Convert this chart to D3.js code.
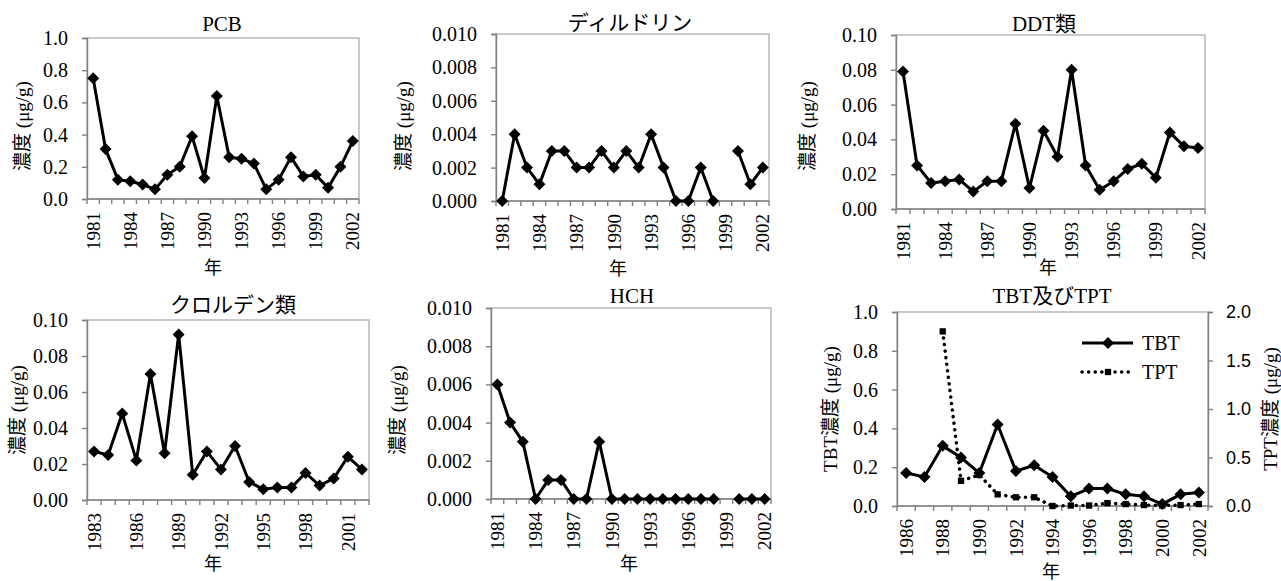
<!DOCTYPE html>
<html>
<head>
<meta charset="utf-8">
<script src="https://cdn.jsdelivr.net/npm/d3@7"></script>
<style>
  body { margin: 0; background: #fff; }
  .num { font-family: "Liberation Serif", "Times New Roman", serif; }
  .jp { font-family: "Liberation Serif", "Noto Sans CJK JP", serif; }
  .sans { font-family: "Liberation Sans", Arial, sans-serif; }
</style>
</head>
<body>
<div id="chart"></div>
<script>
// categories
const years81 = [1981, 1982, 1983, 1984, 1985, 1986, 1987, 1988, 1989, 1990, 1991,
                 1992, 1993, 1994, 1995, 1996, 1997, 1998, 1999, 2000, 2001, 2002];
const years83 = [1983, 1984, 1985, 1986, 1987, 1988, 1989, 1990, 1991, 1992,
                 1993, 1994, 1995, 1996, 1997, 1998, 1999, 2000, 2001, 2002];
const years86 = [1986, 1987, 1988, 1989, 1990, 1991, 1992, 1993, 1994,
                 1995, 1996, 1997, 1998, 1999, 2000, 2001, 2002];

// series (µg/g), null = no measurement
const pcb = [0.75, 0.31, 0.12, 0.11, 0.09, 0.06, 0.15, 0.20, 0.39, 0.13, 0.64,
             0.26, 0.25, 0.22, 0.06, 0.12, 0.26, 0.14, 0.15, 0.07, 0.20, 0.36];
const dieldrin = [0.000, 0.004, 0.002, 0.001, 0.003, 0.003, 0.002, 0.002, 0.003, 0.002, 0.003,
                  0.002, 0.004, 0.002, 0.000, 0.000, 0.002, 0.000, null, 0.003, 0.001, 0.002];
const ddt = [0.079, 0.025, 0.015, 0.016, 0.017, 0.010, 0.016, 0.016, 0.049, 0.012, 0.045,
             0.030, 0.080, 0.025, 0.011, 0.016, 0.023, 0.026, 0.018, 0.044, 0.036, 0.035];
const chlordane = [0.027, 0.025, 0.048, 0.022, 0.070, 0.026, 0.092, 0.014, 0.027, 0.017,
                   0.030, 0.010, 0.006, 0.007, 0.007, 0.015, 0.008, 0.012, 0.024, 0.017];
const hch = [0.006, 0.004, 0.003, 0.000, 0.001, 0.001, 0.000, 0.000, 0.003, 0.000, 0.000,
             0.000, 0.000, 0.000, 0.000, 0.000, 0.000, 0.000, null, 0.000, 0.000, 0.000];
const tbt = [0.17, 0.15, 0.31, 0.25, 0.17, 0.42, 0.18, 0.21, 0.15,
             0.05, 0.09, 0.09, 0.06, 0.05, 0.01, 0.06, 0.07];
const tpt = [null, null, 1.80, 0.26, 0.32, 0.12, 0.09, 0.09, 0.00,
             0.005, 0.005, 0.03, 0.02, 0.01, 0.005, 0.01, 0.02];

// tick values
const ticks1 = [0, 0.2, 0.4, 0.6, 0.8, 1.0];
const ticks01 = [0, 0.02, 0.04, 0.06, 0.08, 0.10];
const ticks001 = [0, 0.002, 0.004, 0.006, 0.008, 0.010];
const ticks2 = [0, 0.5, 1.0, 1.5, 2.0];
const labels81 = [1981, 1984, 1987, 1990, 1993, 1996, 1999, 2002];
const labels83 = [1983, 1986, 1989, 1992, 1995, 1998, 2001];
const labels86 = [1986, 1988, 1990, 1992, 1994, 1996, 1998, 2000, 2002];

const svg = d3.select("#chart").append("svg")
    .attr("width", 1281)
    .attr("height", 581)
    .style("background", "#fff");

const diamond = d3.symbol().type(d3.symbolSquare).size(72);
const square = d3.symbol().type(d3.symbolSquare).size(40);

function panel(o) {
    const g = svg.append("g");
    const x = d3.scaleBand().domain(o.years).range([o.left, o.right]);
    const y = d3.scaleLinear().domain([0, o.ymax]).range([o.bottom, o.top]);
    const cx = d => x(d) + x.bandwidth() / 2;

    // plot frame (light grey top/right)
    g.append("rect")
        .attr("x", o.left).attr("y", o.top)
        .attr("width", o.right - o.left).attr("height", o.bottom - o.top)
        .attr("fill", "none").attr("stroke", "#a6a6a6").attr("stroke-width", 1.2);

    // y axis
    const ya = g.append("g")
        .attr("transform", `translate(${o.left},0)`)
        .attr("font-family", null).attr("font-size", null)
        .call(d3.axisLeft(y).tickValues(o.yticks).tickSize(5).tickPadding(14).tickFormat(d3.format(o.fmt)));
    ya.attr("font-family", null).attr("font-size", null);
    ya.selectAll("path, line").attr("stroke", "#808080").attr("stroke-width", 1.4);
    ya.selectAll("text").attr("class", "num").style("font-size", "20px").attr("fill", "#000");

    // category axis: ticks on band boundaries
    const bounds = o.years.map(d => x(d)).concat([o.right]);
    g.append("line")
        .attr("x1", o.left).attr("x2", o.right)
        .attr("y1", o.bottom).attr("y2", o.bottom)
        .attr("stroke", "#808080").attr("stroke-width", 1.4);
    g.selectAll(".xt").data(bounds).join("line")
        .attr("x1", d => d).attr("x2", d => d)
        .attr("y1", o.bottom).attr("y2", o.bottom + 5)
        .attr("stroke", "#808080").attr("stroke-width", 1.4);
    g.selectAll(".xl").data(o.xlabels).join("text")
        .attr("class", "num")
        .attr("transform", d => `translate(${cx(d)},${o.bottom + 13}) rotate(-90)`)
        .attr("dy", "0.35em")
        .attr("text-anchor", "end")
        .style("font-size", "19px")
        .text(d => d);

    // title and axis titles
    g.append("text")
        .attr("class", "jp")
        .attr("x", o.titleX).attr("y", o.titleY)
        .attr("text-anchor", "middle")
        .style("font-size", "21px")
        .text(o.title);
    g.append("text")
        .attr("class", "jp")
        .attr("transform", `translate(${o.ylabX},${o.ylabY}) rotate(-90)`)
        .attr("text-anchor", "middle").attr("dy", "0.35em")
        .style("font-size", "19px")
        .text(o.ylab);
    g.append("text")
        .attr("class", "jp")
        .attr("x", o.xlabX).attr("y", o.xlabY)
        .attr("text-anchor", "middle")
        .style("font-size", "18px")
        .text("年");

    return { g, x, y, cx };
}

function solidSeries(p, years, values, y) {
    const pts = years.map((d, i) => ({ year: d, v: values[i] }));
    p.g.append("path")
        .datum(pts)
        .attr("fill", "none").attr("stroke", "#000").attr("stroke-width", 3)
        .attr("stroke-linejoin", "round")
        .attr("d", d3.line().defined(d => d.v != null).x(d => p.cx(d.year)).y(d => y(d.v)));
    p.g.selectAll(".dm").data(pts.filter(d => d.v != null)).join("path")
        .attr("transform", d => `translate(${p.cx(d.year)},${y(d.v)}) rotate(45)`)
        .attr("d", diamond).attr("fill", "#000");
}

const P1 = panel({ years: years81, left: 87, right: 359, top: 38, bottom: 199, ymax: 1.0, yticks: ticks1, fmt: ".1f",
    xlabels: labels81, title: "PCB", titleX: 222, titleY: 31, ylab: "濃度 (μg/g)", ylabX: 22, ylabY: 126, xlabX: 213, xlabY: 274 });
solidSeries(P1, years81, pcb, P1.y);

const P2 = panel({ years: years81, left: 496, right: 769, top: 34, bottom: 201, ymax: 0.010, yticks: ticks001, fmt: ".3f",
    xlabels: labels81, title: "ディルドリン", titleX: 630, titleY: 30, ylab: "濃度 (μg/g)", ylabX: 403, ylabY: 126, xlabX: 618, xlabY: 275 });
solidSeries(P2, years81, dieldrin, P2.y);

const P3 = panel({ years: years81, left: 896, right: 1205, top: 35, bottom: 209, ymax: 0.10, yticks: ticks01, fmt: ".2f",
    xlabels: labels81, title: "DDT類", titleX: 1044, titleY: 31, ylab: "濃度 (μg/g)", ylabX: 807, ylabY: 126, xlabX: 1048, xlabY: 274 });
solidSeries(P3, years81, ddt, P3.y);

const P4 = panel({ years: years83, left: 87, right: 369, top: 320, bottom: 500, ymax: 0.10, yticks: ticks01, fmt: ".2f",
    xlabels: labels83, title: "クロルデン類", titleX: 233, titleY: 312, ylab: "濃度 (μg/g)", ylabX: 17, ylabY: 410, xlabX: 213, xlabY: 570 });
solidSeries(P4, years83, chlordane, P4.y);

const P5 = panel({ years: years81, left: 491, right: 771, top: 308, bottom: 499, ymax: 0.010, yticks: ticks001, fmt: ".3f",
    xlabels: labels81, title: "HCH", titleX: 632, titleY: 303, ylab: "濃度 (μg/g)", ylabX: 397, ylabY: 410, xlabX: 629, xlabY: 570 });
solidSeries(P5, years81, hch, P5.y);

const P6 = panel({ years: years86, left: 897, right: 1208, top: 312, bottom: 506, ymax: 1.0, yticks: ticks1, fmt: ".1f",
    xlabels: labels86, title: "TBT及びTPT", titleX: 1052, titleY: 303, ylab: "TBT濃度 (μg/g)", ylabX: 830, ylabY: 409, xlabX: 1051, xlabY: 578 });

// secondary axis for TPT
const y2 = d3.scaleLinear().domain([0, 2.0]).range([506, 312]);
const ra = P6.g.append("g")
    .attr("transform", "translate(1208,0)")
    .call(d3.axisRight(y2).tickValues(ticks2).tickSize(5).tickPadding(13).tickFormat(d3.format(".1f")));
ra.attr("font-family", null).attr("font-size", null);
ra.selectAll("path, line").attr("stroke", "#808080").attr("stroke-width", 1.4);
ra.selectAll("text").attr("class", "sans").style("font-size", "18px").attr("fill", "#000");
P6.g.append("text")
    .attr("class", "jp")
    .attr("transform", "translate(1270,409) rotate(-90)")
    .attr("text-anchor", "middle").attr("dy", "0.35em")
    .style("font-size", "19px")
    .text("TPT濃度 (μg/g)");

// TPT dotted series (drawn under TBT)
const tptPts = years86.map((d, i) => ({ year: d, v: tpt[i] }));
P6.g.append("path")
    .datum(tptPts)
    .attr("fill", "none").attr("stroke", "#000").attr("stroke-width", 3.5)
    .attr("stroke-linecap", "round").attr("stroke-dasharray", "0.1 6.5")
    .attr("d", d3.line().defined(d => d.v != null).x(d => P6.cx(d.year)).y(d => y2(d.v)));
P6.g.selectAll(".sq").data(tptPts.filter(d => d.v != null)).join("path")
    .attr("transform", d => `translate(${P6.cx(d.year)},${y2(d.v)})`)
    .attr("d", square).attr("fill", "#000");

solidSeries(P6, years86, tbt, P6.y);

// legend
const lg = P6.g.append("g");
lg.append("line").attr("x1", 1082).attr("x2", 1133).attr("y1", 343).attr("y2", 343)
    .attr("stroke", "#000").attr("stroke-width", 3);
lg.append("path").attr("transform", "translate(1108,343) rotate(45)").attr("d", diamond).attr("fill", "#000");
lg.append("text").attr("class", "num").attr("x", 1142).attr("y", 350).style("font-size", "20px").text("TBT");
lg.append("line").attr("x1", 1082).attr("x2", 1132).attr("y1", 372).attr("y2", 372)
    .attr("stroke", "#000").attr("stroke-width", 3.5)
    .attr("stroke-linecap", "round").attr("stroke-dasharray", "0.1 6.5");
lg.append("path").attr("transform", "translate(1108,372)").attr("d", square).attr("fill", "#000");
lg.append("text").attr("class", "num").attr("x", 1142).attr("y", 379).style("font-size", "20px").text("TPT");
</script>
</body>
</html>
